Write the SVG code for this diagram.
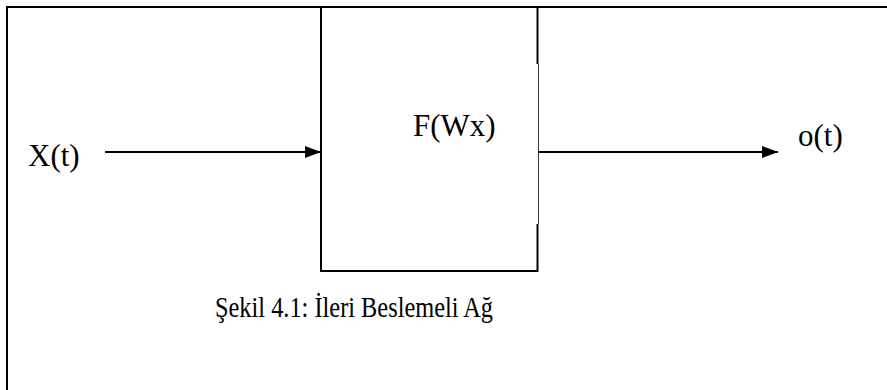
<svg xmlns="http://www.w3.org/2000/svg" width="887" height="390" viewBox="0 0 887 390">
<style>
  .t { font-family: "Liberation Serif", "Times New Roman", serif; fill: #000; }
  .ln { stroke: #000; stroke-width: 2; fill: none; }
</style>
<defs>
  <marker id="ah" markerWidth="16" markerHeight="12" refX="16" refY="6" orient="auto" markerUnits="userSpaceOnUse">
    <path d="M0,0 L16,6 L0,12 Z" fill="#000"/>
  </marker>
</defs>
<rect width="887" height="390" fill="#fff"/>
<g id="frame">
  <path class="ln" d="M7,392 V7 H889"/>
</g>
<g id="box">
  <path class="ln" d="M321,7 V271 H537.5 V224"/>
  <path class="ln" d="M537.5,7 V64"/>
  <path d="M538.5,64 V224" stroke="#333" stroke-width="1" fill="none"/>
  <text class="t" x="413" y="136" font-size="31">F(Wx)</text>
</g>
<g id="input">
  <text class="t" x="28" y="166" font-size="31">X(t)</text>
</g>
<g id="output">
  <text class="t" x="798" y="146" font-size="31">o(t)</text>
</g>
<g id="connectors">
  <line class="ln" x1="105" y1="152" x2="321" y2="152" marker-end="url(#ah)"/>
  <line class="ln" x1="538" y1="152" x2="778" y2="152" marker-end="url(#ah)"/>
</g>
<g id="caption">
  <text class="t" x="215" y="317" font-size="30" textLength="278" lengthAdjust="spacingAndGlyphs">Şekil 4.1: İleri Beslemeli Ağ</text>
</g>
</svg>
